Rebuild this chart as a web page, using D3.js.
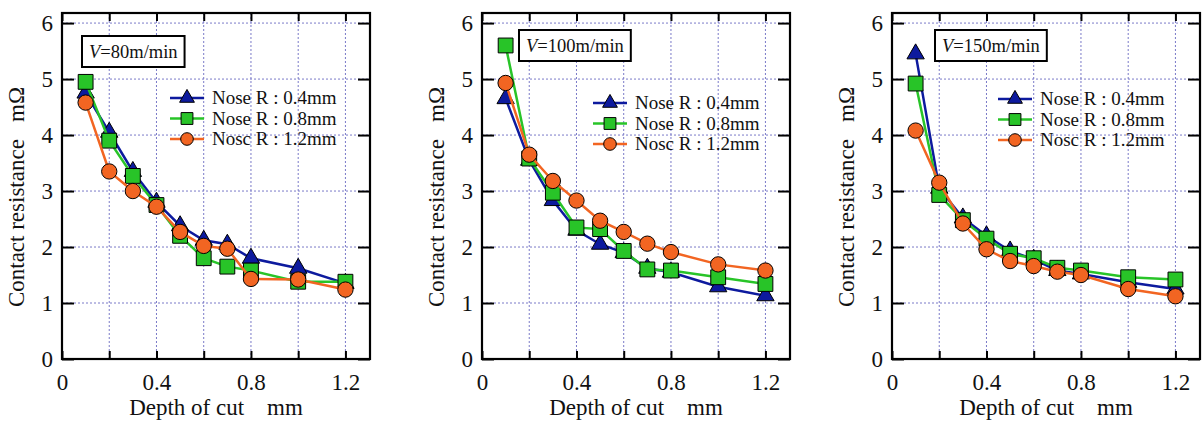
<!DOCTYPE html>
<html>
<head>
<meta charset="utf-8">
<script src="https://cdn.jsdelivr.net/npm/d3@7"></script>
<style>
html,body{margin:0;padding:0;background:#fff;}
svg{display:block;}
text{font-family:"Liberation Serif","Times New Roman",serif;fill:#111;white-space:pre;}
</style>
</head>
<body>
<svg id="chart" width="1203" height="421"></svg>
<script>
const depths = [0.1, 0.2, 0.3, 0.4, 0.5, 0.6, 0.7, 0.8, 1.0, 1.2];
const seriesNames = ["Nose R : 0.4mm", "Nose R : 0.8mm", "Nosc R : 1.2mm"];
const speedLabels = ["80m/min", "100m/min", "150m/min"];
const xTickLabels = [0, 0.4, 0.8, 1.2];
const yTickLabels = [0, 1, 2, 3, 4, 5, 6];

// V = 80 m/min
const v80_r04 = [4.75, 4.05, 3.35, 2.8, 2.38, 2.12, 2.05, 1.8, 1.62, 1.35];
const v80_r08 = [4.95, 3.9, 3.27, 2.75, 2.2, 1.8, 1.65, 1.58, 1.38, 1.38];
const v80_r12 = [4.58, 3.35, 3.0, 2.72, 2.27, 2.02, 1.97, 1.43, 1.42, 1.24];
// V = 100 m/min
const v100_r04 = [4.65, 3.55, 2.83, 2.3, 2.05, 1.9, 1.62, 1.55, 1.29, 1.13];
const v100_r08 = [5.6, 3.58, 2.97, 2.35, 2.32, 1.93, 1.6, 1.58, 1.46, 1.34];
const v100_r12 = [4.93, 3.65, 3.18, 2.83, 2.47, 2.27, 2.06, 1.91, 1.69, 1.58];
// V = 150 m/min
const v150_r04 = [5.45, 3.05, 2.52, 2.2, 1.93, 1.78, 1.58, 1.52, 1.37, 1.25];
const v150_r08 = [4.92, 2.93, 2.48, 2.15, 1.88, 1.8, 1.63, 1.58, 1.46, 1.42];
const v150_r12 = [4.08, 3.15, 2.42, 1.96, 1.75, 1.66, 1.56, 1.5, 1.25, 1.12];

const panelsData = [
  [v80_r04, v80_r08, v80_r12],
  [v100_r04, v100_r08, v100_r12],
  [v150_r04, v150_r08, v150_r12]
];

const colors = ["#0d1a9e", "#28c428", "#f26522"];
const symbols = [d3.symbolTriangle, d3.symbolSquare, d3.symbolCircle];
const symSize = [130, 220, 185];
const legSymSize = [95, 140, 125];

const panelLefts = [62, 482, 892];
const panelTop = 13, panelH = 346, panelW = 308;
const boxPos = [{x:20, y:23}, {x:37, y:17}, {x:43, y:17}];
const legPos = [{x:108, y:85}, {x:111, y:90}, {x:106, y:86}];

const svg = d3.select("#chart");

panelsData.forEach((series, p) => {
  const g = svg.append("g").attr("transform", `translate(${panelLefts[p]},${panelTop})`);
  const x = d3.scaleLinear().domain([0, 1.304]).range([0, panelW]);
  const y = d3.scaleLinear().domain([0, 6.18]).range([panelH, 0]);

  // grid
  const gx = d3.range(0.2, 1.21, 0.2);
  g.append("g").selectAll("line").data(gx).join("line")
    .attr("x1", d => x(d)).attr("x2", d => x(d)).attr("y1", 0).attr("y2", panelH)
    .attr("stroke", "#7a7ac8").attr("stroke-width", 1).attr("stroke-dasharray", "2,2");
  g.append("g").selectAll("line").data(yTickLabels.slice(1)).join("line")
    .attr("x1", 0).attr("x2", panelW).attr("y1", d => y(d)).attr("y2", d => y(d))
    .attr("stroke", "#7a7ac8").attr("stroke-width", 1).attr("stroke-dasharray", "2,2");

  // axes (ticks inward)
  const xTicks = d3.range(0, 1.21, 0.2);
  const bottom = g.append("g").attr("transform", `translate(0,${panelH})`)
    .call(d3.axisBottom(x).tickValues(xTicks).tickSize(-8).tickPadding(15)
      .tickFormat(d => xTickLabels.some(v => Math.abs(v - d) < 1e-6) ? d3.format("~g")(+d.toFixed(1)) : ""));
  const top = g.append("g")
    .call(d3.axisTop(x).tickValues(xTicks).tickSize(-8).tickFormat(""));
  const left = g.append("g")
    .call(d3.axisLeft(y).tickValues(yTickLabels).tickSize(-12).tickPadding(9).tickFormat(d3.format("d")));
  const right = g.append("g").attr("transform", `translate(${panelW},0)`)
    .call(d3.axisRight(y).tickValues(yTickLabels).tickSize(-12).tickFormat(""));
  [bottom, top, left, right].forEach(a => {
    a.attr("font-family", null).attr("font-size", null);
    a.select(".domain").remove();
    a.selectAll(".tick line").attr("stroke", "#000").attr("stroke-width", 2);
    a.selectAll(".tick text").style("font-size", "23px").attr("fill", "#111");
  });

  // frame
  g.append("rect").attr("x", 0).attr("y", 0).attr("width", panelW).attr("height", panelH)
    .attr("fill", "none").attr("stroke", "#000").attr("stroke-width", 2.2);

  // axis titles
  g.append("text").attr("x", panelW / 2).attr("y", 402)
    .attr("text-anchor", "middle").style("font-size", "23px")
    .text("Depth of cut    mm");
  g.append("text").attr("transform", `translate(-38,${panelH / 2 + 11}) rotate(-90)`)
    .attr("text-anchor", "middle").style("font-size", "23px")
    .text("Contact resistance   m\u03A9");

  // series
  const line = d3.line().x((d, i) => x(depths[i])).y(d => y(d));
  series.forEach((vals, s) => {
    g.append("path").datum(vals).attr("d", line)
      .attr("fill", "none").attr("stroke", colors[s]).attr("stroke-width", 2.5);
    g.append("g").selectAll("path").data(vals).join("path")
      .attr("transform", (d, i) => `translate(${x(depths[i])},${y(d)})`)
      .attr("d", d3.symbol().type(symbols[s]).size(symSize[s]))
      .attr("fill", colors[s]).attr("stroke", "#000").attr("stroke-width", 1);
  });

  // speed label box
  const bp = boxPos[p];
  const rect = g.append("rect").attr("x", bp.x).attr("y", bp.y).attr("height", 31)
    .attr("fill", "#fff").attr("stroke", "#000").attr("stroke-width", 2);
  const tb = g.append("text").attr("x", bp.x + 7).attr("y", bp.y + 22).style("font-size", "18.5px");
  tb.append("tspan").style("font-style", "italic").text("V");
  tb.append("tspan").text("=" + speedLabels[p]);
  const bb = tb.node().getBBox();
  rect.attr("width", bb.width + 14);

  // legend
  const lp = legPos[p];
  seriesNames.forEach((name, s) => {
    const ly = lp.y + s * 20.5;
    g.append("line").attr("x1", lp.x).attr("x2", lp.x + 34).attr("y1", ly).attr("y2", ly)
      .attr("stroke", colors[s]).attr("stroke-width", 2.5);
    g.append("path").attr("transform", `translate(${lp.x + 17},${ly})`)
      .attr("d", d3.symbol().type(symbols[s]).size(legSymSize[s]))
      .attr("fill", colors[s]).attr("stroke", "#000").attr("stroke-width", 1);
    g.append("text").attr("x", lp.x + 42).attr("y", ly + 6).style("font-size", "19px").text(name);
  });
});
</script>
</body>
</html>
